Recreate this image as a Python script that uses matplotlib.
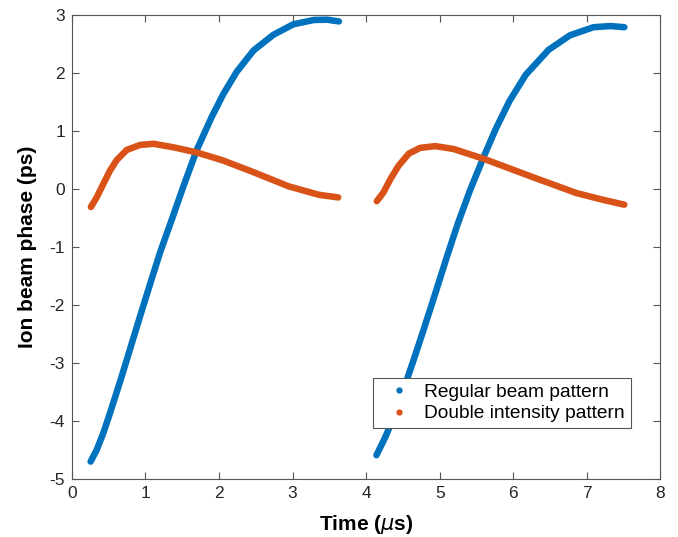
import matplotlib
matplotlib.use("Agg")
import matplotlib.pyplot as plt

plt.rcParams["font.family"] = ["Liberation Sans", "DejaVu Sans"]
plt.rcParams["axes.unicode_minus"] = False

# regular beam pattern, first and second pulse (time in us, phase in ps)
t_reg1 = [0.255, 0.337, 0.43, 0.54, 0.68, 0.81, 0.95, 1.09, 1.20, 1.36, 1.52, 1.70, 1.90,
          2.06, 2.24, 2.47, 2.74, 3.01, 3.29, 3.47, 3.63]
y_reg1 = [-4.70, -4.50, -4.20, -3.78, -3.22, -2.68, -2.10, -1.53, -1.09, -0.52, 0.06, 0.68, 1.24,
          1.64, 2.02, 2.39, 2.66, 2.84, 2.915, 2.92, 2.89]
t_reg2 = [4.14, 4.26, 4.36, 4.51, 4.64, 4.77, 4.89, 5.00, 5.10, 5.24, 5.41, 5.60, 5.76,
          5.95, 6.17, 6.48, 6.77, 7.09, 7.32, 7.51]
y_reg2 = [-4.59, -4.28, -3.98, -3.45, -2.97, -2.47, -2.00, -1.56, -1.16, -0.62, -0.03, 0.56, 1.03,
          1.52, 1.97, 2.40, 2.65, 2.79, 2.81, 2.79]

# double intensity pattern
t_dbl1 = [0.259, 0.337, 0.427, 0.518, 0.61, 0.746, 0.928, 1.11, 1.38, 1.70, 2.06, 2.45, 2.95,
          3.36, 3.62]
y_dbl1 = [-0.31, -0.145, 0.087, 0.317, 0.50, 0.675, 0.76, 0.78, 0.72, 0.63, 0.49, 0.30, 0.045,
          -0.10, -0.145]
t_dbl2 = [4.145, 4.235, 4.33, 4.44, 4.58, 4.735, 4.94, 5.19, 5.60, 5.96, 6.34, 6.86, 7.20, 7.51]
y_dbl2 = [-0.21, -0.06, 0.17, 0.40, 0.61, 0.71, 0.74, 0.69, 0.52, 0.35, 0.17, -0.07, -0.18, -0.27]

blue = "#0072BD"
orange = "#D95319"

fig = plt.figure(figsize=(6.78, 5.37), dpi=100)
ax = fig.add_axes([0.106, 0.108, 0.868, 0.864])

for t, y in [(t_reg1, y_reg1), (t_reg2, y_reg2)]:
    ax.plot(t, y, "-", color=blue, lw=4.7, solid_capstyle="round", solid_joinstyle="round")
for t, y in [(t_dbl1, y_dbl1), (t_dbl2, y_dbl2)]:
    ax.plot(t, y, "-", color=orange, lw=4.7, solid_capstyle="round", solid_joinstyle="round")

# legend handles shown as dots
ax.plot([], [], ".", color=blue, markersize=7, label="Regular beam pattern")
ax.plot([], [], ".", color=orange, markersize=7, label="Double intensity pattern")

ax.set_xlim(0, 8)
ax.set_ylim(-5, 3)
ax.set_xticks(range(0, 9))
ax.set_yticks(range(-5, 4))
ax.tick_params(direction="in", length=5, width=0.8, color="#555555",
               top=True, right=True, labelsize=12.5, labelcolor="#262626", pad=5)
for s in ax.spines.values():
    s.set_color("#555555")
    s.set_linewidth(0.8)

ax.set_xlabel(r"Time ($\mu$s)", fontsize=15, fontweight="bold", labelpad=9)
ax.set_ylabel("Ion beam phase (ps)", fontsize=15, fontweight="bold", labelpad=9)

leg = ax.legend(loc="lower left", bbox_to_anchor=(0.512, 0.11), borderaxespad=0,
                fontsize=13.8, fancybox=False, edgecolor="#555555", framealpha=1,
                handlelength=2.1, handletextpad=0.26, borderpad=0.3, labelspacing=0.2)
leg.get_frame().set_linewidth(0.8)

fig.savefig("out.png", dpi=100)
